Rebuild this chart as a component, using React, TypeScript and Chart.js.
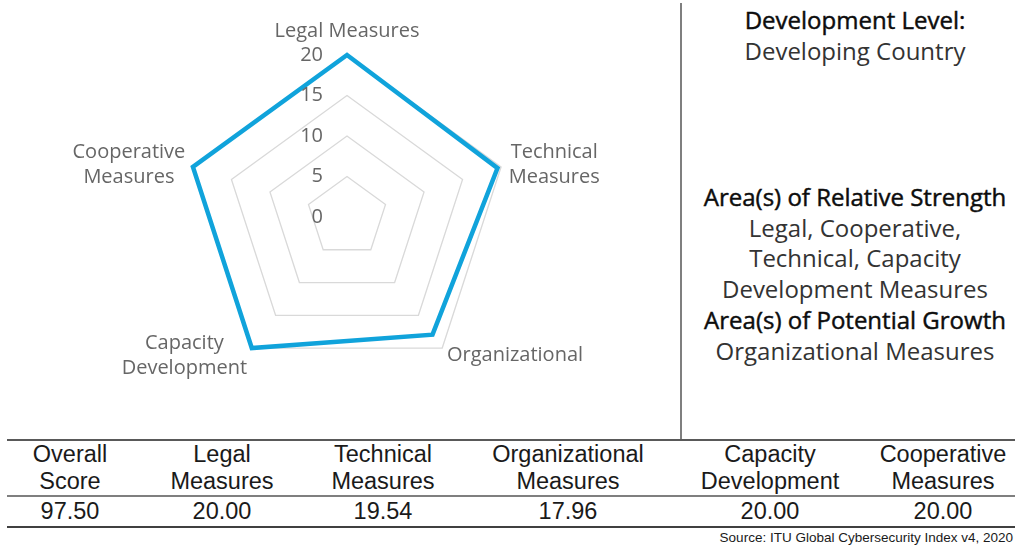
import React, { useEffect, useRef } from "react";
import { Chart, registerables } from "chart.js";

Chart.register(...registerables);

const CATEGORIES: string[][] = [
  ["Legal Measures"],
  ["Technical", "Measures"],
  ["Organizational"],
  ["Capacity", "Development"],
  ["Cooperative", "Measures"],
];
const SCORES = [20, 19.54, 17.96, 20, 20];
const TICK_MIN = 0;
const TICK_MAX = 20;
const TICK_STEP = 5;

const TABLE_HEADERS: string[][] = [
  ["Overall", "Score"],
  ["Legal", "Measures"],
  ["Technical", "Measures"],
  ["Organizational", "Measures"],
  ["Capacity", "Development"],
  ["Cooperative", "Measures"],
];
const TABLE_VALUES = ["97.50", "20.00", "19.54", "17.96", "20.00", "20.00"];
const COLUMN_CENTERS = [70, 222, 383, 568, 770, 943];

const SOURCE = "Source: ITU Global Cybersecurity Index v4, 2020";

const LABEL_FONT = "20px 'Open Sans', Lato, sans-serif";
const LABEL_LINE_H = 25;

const labelsPlugin = {
  id: "customRadarLabels",
  afterDatasetsDraw(chart: any) {
    const s = chart.scales.r;
    const ctx = chart.ctx;
    ctx.save();
    ctx.font = LABEL_FONT;
    ctx.fillStyle = "#666666";
    ctx.textAlign = "right";
    ctx.textBaseline = "middle";
    s.ticks.forEach((t: any) => {
      const d = s.getDistanceFromCenterForValue(t.value);
      ctx.fillText(String(t.value), s.xCenter - 24, s.yCenter - d);
    });
    const lines: string[][] = chart.data.labels;
    lines.forEach((lab: string[], i: number) => {
      const p = s.getPointPosition(i, s.drawingArea + 8);
      const dx = p.x - s.xCenter;
      const dy = p.y - s.yCenter;
      const widths = lab.map((l) => ctx.measureText(l).width);
      const bw = Math.max(...widths);
      const bh = lab.length * LABEL_LINE_H;
      let cx: number;
      if (Math.abs(dx) < 2) cx = p.x;
      else if (dx > 0) cx = p.x + bw / 2;
      else cx = p.x - bw / 2;
      let cy: number;
      if (Math.abs(dx) < 2) cy = dy < 0 ? p.y - bh / 2 - 3 : p.y + bh / 2 + 3;
      else if (dy > s.drawingArea * 0.5) cy = p.y + 1;
      else cy = p.y;
      ctx.textAlign = "center";
      lab.forEach((l, k) => {
        ctx.fillText(l, cx, cy - bh / 2 + LABEL_LINE_H * (k + 0.5));
      });
    });
    ctx.restore();
  },
};

function Radar() {
  const ref = useRef<HTMLCanvasElement>(null);
  useEffect(() => {
    if (!ref.current) return;
    const chart = new Chart(ref.current, {
      type: "radar",
      data: {
        labels: CATEGORIES as any,
        datasets: [
          {
            data: SCORES,
            borderColor: "#10A3DB",
            borderWidth: 4.5,
            backgroundColor: "transparent",
            fill: false,
            pointRadius: 0,
            pointHoverRadius: 0,
            tension: 0,
            borderJoinStyle: "miter",
          } as any,
        ],
      },
      options: {
        responsive: false,
        animation: false,
        layout: { padding: { left: 185, right: 170, top: 55, bottom: 51 } },
        plugins: { legend: { display: false }, tooltip: { enabled: false } },
        scales: {
          r: {
            min: TICK_MIN,
            max: TICK_MAX,
            ticks: { display: false, stepSize: TICK_STEP },
            grid: { color: "#d9d9d9", lineWidth: 1.3 },
            angleLines: { display: false },
            pointLabels: { display: false },
          },
        },
      },
      plugins: [labelsPlugin],
    });
    return () => chart.destroy();
  }, []);
  return (
    <canvas
      ref={ref}
      width={680}
      height={430}
      style={{ position: "absolute", left: 0, top: 0, width: 680, height: 430 }}
    />
  );
}

export default function App() {
  const tableFont = "'Liberation Sans Narrow', 'Arial Narrow', sans-serif";
  const sideFont = "'Open Sans', Lato, sans-serif";
  const headStyle: React.CSSProperties = {
    color: "#0d0d0d",
    fontWeight: 400,
    WebkitTextStroke: "0.45px #0d0d0d",
  };
  return (
    <div
      style={{
        position: "absolute",
        left: 0,
        top: 0,
        width: 1020,
        height: 550,
        background: "#ffffff",
        overflow: "hidden",
      }}
    >
      <Radar />
      <div style={{ position: "absolute", left: 680, top: 3, width: 2, height: 437, background: "#7f7f7f" }} />
      <div style={{ position: "absolute", left: 7, top: 439, width: 1008, height: 2, background: "#595959" }} />
      <div style={{ position: "absolute", left: 7, top: 495, width: 1008, height: 2, background: "#7f7f7f" }} />
      <div style={{ position: "absolute", left: 7, top: 526, width: 1008, height: 2, background: "#404040" }} />

      <div
        style={{
          position: "absolute",
          left: 690,
          width: 330,
          top: 4,
          textAlign: "center",
          fontFamily: sideFont,
          fontSize: 24,
          lineHeight: "31px",
          color: "#333333",
          whiteSpace: "nowrap",
        }}
      >
        <div style={headStyle}>Development Level:</div>
        <div>Developing Country</div>
      </div>
      <div
        style={{
          position: "absolute",
          left: 690,
          width: 330,
          top: 182,
          textAlign: "center",
          fontFamily: sideFont,
          fontSize: 24,
          lineHeight: "30.7px",
          color: "#333333",
          whiteSpace: "nowrap",
        }}
      >
        <div style={headStyle}>Area(s) of Relative Strength</div>
        <div>Legal, Cooperative,</div>
        <div>Technical, Capacity</div>
        <div>Development Measures</div>
        <div style={headStyle}>Area(s) of Potential Growth</div>
        <div>Organizational Measures</div>
      </div>

      {TABLE_HEADERS.map((h, i) => (
        <div
          key={i}
          style={{
            position: "absolute",
            left: COLUMN_CENTERS[i] - 100,
            width: 200,
            top: 441,
            textAlign: "center",
            fontFamily: tableFont,
            fontSize: 23.5,
            lineHeight: "27px",
            color: "#1a1a1a",
          }}
        >
          <div>{h[0]}</div>
          <div>{h[1]}</div>
          <div style={{ marginTop: 3 }}>{TABLE_VALUES[i]}</div>
        </div>
      ))}
      <div
        style={{
          position: "absolute",
          right: 7,
          top: 530,
          fontFamily: tableFont,
          fontSize: 13.5,
          color: "#1a1a1a",
          whiteSpace: "nowrap",
        }}
      >
        {SOURCE}
      </div>
    </div>
  );
}
